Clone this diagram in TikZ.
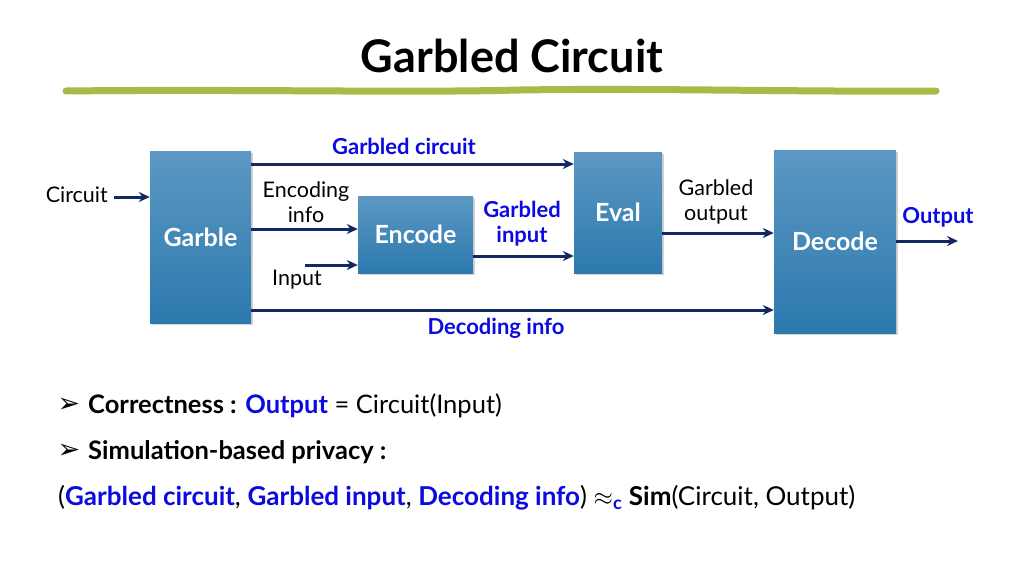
\documentclass[tikz,border=0pt]{standalone}
\usepackage{fontspec}
\setmainfont{Lato}
\newfontfamily\symfont{DejaVu Sans}
\usetikzlibrary{arrows.meta,shadows}
\definecolor{navy}{RGB}{18,40,96}
\definecolor{gblue}{RGB}{10,10,225}
\definecolor{boxtop}{RGB}{92,152,195}
\definecolor{boxbot}{RGB}{44,121,174}
\definecolor{leaf}{RGB}{166,188,72}
\tikzset{
  blk/.style={draw=none, top color=boxtop, bottom color=boxbot, text=white,
    font=\fontsize{25}{28}\selectfont\bfseries, inner sep=0pt,
    drop shadow={opacity=0.35, shadow xshift=1.5pt, shadow yshift=-1.5pt}},
  arr/.style={draw=navy, line width=3pt, -{Stealth[length=11pt,width=10pt]}},
  lbl/.style={font=\fontsize{21.5}{25}\selectfont, align=center, inner sep=0pt},
  blbl/.style={font=\fontsize{22}{25}\selectfont\bfseries, text=gblue, align=center, inner sep=0pt},
  txt/.style={font=\fontsize{25.5}{28}\selectfont, anchor=west, inner sep=0pt},
  bul/.style={font=\symfont\fontsize{27}{28}\selectfont, inner sep=0pt},
}
\begin{document}
\begin{tikzpicture}[x=1pt,y=-1pt]
\useasboundingbox (0,0) rectangle (1024,576);
% title
\node[font=\fontsize{45}{50}\selectfont\bfseries, inner sep=0pt] (title) at (512,56) {Garbled Circuit};
\draw[leaf, line width=7pt, line cap=round] (66,91) .. controls (250,89) and (400,93) .. (520,90) .. controls (650,88) and (800,92) .. (936,91);
% boxes
\node[blk, minimum width=101pt, minimum height=172pt] (garble) at (200.5,237) {Garble};
\node[blk, minimum width=115pt, minimum height=77pt] (encode) at (415.5,234.5) {Encode};
\node[blk, minimum width=88pt, minimum height=121pt] (eval) at (618,212.5) {Eval};
\node[blk, minimum width=122pt, minimum height=183pt] (decode) at (835,241.5) {Decode};
% helper rows
\coordinate (rgc) at (0,164);
\coordinate (rei) at (0,229);
\coordinate (rin) at (0,265);
\coordinate (rgi) at (0,256);
\coordinate (rgo) at (0,233);
\coordinate (rdi) at (0,310);
\coordinate (rci) at (0,197);
\coordinate (rout) at (0,241);
\coordinate (cstart) at (114,197);
\coordinate (instart) at (305,265);
\coordinate (outend) at (958,241);
% labels
\node[lbl, anchor=east] (lcirc) at (108,195) {Circuit};
\node[blbl] (lgc) at (404,146) {Garbled circuit};
\node[lbl] (lei) at (306,202) {Encoding\\info};
\node[lbl] (lin) at (297,280) {Input};
\node[blbl] (lgi) at (522,224) {Garbled\\input};
\node[lbl] (lgo) at (716,202) {Garbled\\output};
\node[blbl] (lout) at (938,217) {Output};
\node[blbl] (ldi) at (496,328) {Decoding info};
% arrows
\draw[arr] (cstart) -- (garble.west |- rci);
\draw[arr] (garble.east |- rgc) -- (eval.west |- rgc);
\draw[arr] (garble.east |- rei) -- (encode.west |- rei);
\draw[arr] (instart) -- (encode.west |- rin);
\draw[arr] (encode.east |- rgi) -- (eval.west |- rgi);
\draw[arr] (eval.east |- rgo) -- (decode.west |- rgo);
\draw[arr] (decode.east |- rout) -- (outend);
\draw[arr] (garble.east |- rdi) -- (decode.west |- rdi);
% text
\node[bul] (bu1) at (69,405) {➢};
\node[bul] (bu2) at (69,451) {➢};
\node[txt] (b1) at (88,406) {\textbf{Correctness :} \textcolor{gblue}{\textbf{Output}} = Circuit(Input)};
\node[txt] (b2) at (88,452) {\textbf{Simulation-based privacy :}};
\node[txt, font=\fontsize{26}{28}\selectfont] (b3) at (58,498) {(\textcolor{gblue}{\textbf{Garbled circuit}}, \textcolor{gblue}{\textbf{Garbled input}}, \textcolor{gblue}{\textbf{Decoding info}}) $\approx_{\textcolor{gblue}{\mathbf{c}}}$ \textbf{Sim}(Circuit, Output)};
\end{tikzpicture}
\end{document}
